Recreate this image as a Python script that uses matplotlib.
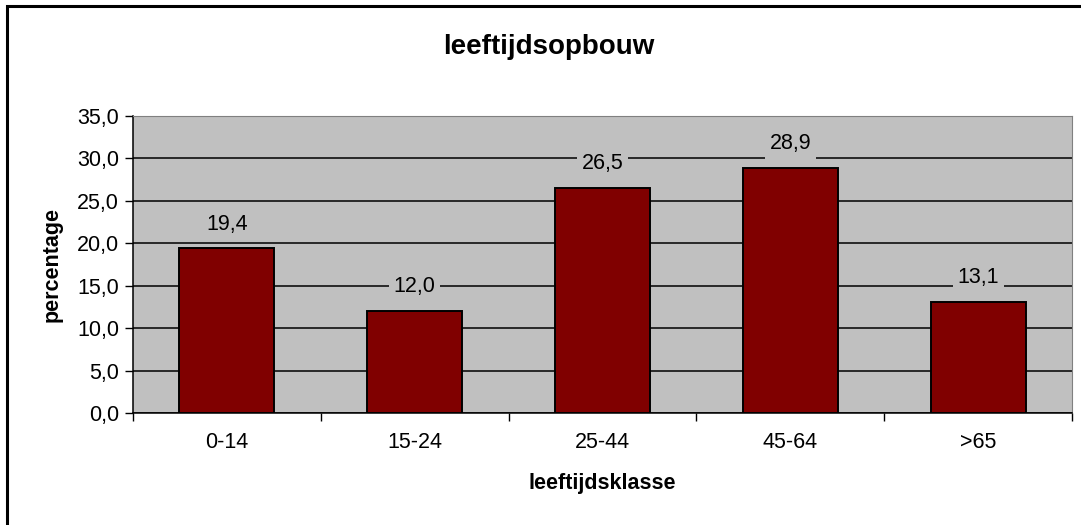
import matplotlib.pyplot as plt
from matplotlib.patches import Rectangle
from matplotlib.ticker import FixedLocator
import numpy as np

categories = ['0-14', '15-24', '25-44', '45-64', '>65']
percentages = [19.4, 12.0, 26.5, 28.9, 13.1]
yticks = [0, 5, 10, 15, 20, 25, 30, 35]

plt.rcParams['font.family'] = ['Liberation Sans', 'DejaVu Sans']

fig = plt.figure(figsize=(10.81, 5.25), dpi=100)
ax = fig.add_axes([0.1230, 0.2133, 0.8687, 0.5657])
ax.set_facecolor('#C0C0C0')

x = np.arange(len(categories))
bars = ax.bar(x, percentages, width=0.505, color='#800000', edgecolor='black',
              linewidth=1.4, zorder=3)

for xi, v in zip(x, percentages):
    ax.annotate(f'{v:.1f}'.replace('.', ','), (xi, v), xytext=(0, 17.5),
                textcoords='offset points', ha='center', va='center',
                fontsize=15.5, zorder=4,
                bbox=dict(boxstyle='square,pad=0.22', fc='#C0C0C0', ec='none'))

ax.set_xlim(-0.5, len(categories) - 0.5)
ax.set_ylim(0, 35)
ax.set_yticks(yticks)
ax.set_yticklabels([f'{t:.1f}'.replace('.', ',') for t in yticks], fontsize=15.5)
ax.yaxis.grid(True, color='black', linewidth=1.1, zorder=1)
ax.set_axisbelow(True)

ax.set_xticks(x)
ax.set_xticklabels(categories, fontsize=15.5)
ax.tick_params(axis='x', which='major', length=0, pad=14)
ax.xaxis.set_minor_locator(FixedLocator(np.arange(-0.5, len(categories), 1.0)))
ax.tick_params(axis='x', which='minor', length=6, width=1, direction='out')
ax.tick_params(axis='y', length=6, width=1, direction='out', pad=4)

for side in ['top', 'right']:
    ax.spines[side].set_color('#808080')
for side in ['left', 'bottom']:
    ax.spines[side].set_color('black')
    ax.spines[side].set_linewidth(1.1)

ax.set_xlabel('leeftijdsklasse', fontsize=15.5, fontweight='bold', labelpad=14)
ax.set_ylabel('percentage', fontsize=15.5, fontweight='bold', labelpad=10)
fig.text(0.508, 0.910, 'leeftijdsopbouw', ha='center', va='center',
         fontsize=20, fontweight='bold')

# outer frame of the chart, running past the right and bottom edges
fig.patches.append(Rectangle((7 / 1081, -0.1), 1.2, 1.1 - 6 / 525,
                             transform=fig.transFigure, fill=False,
                             edgecolor='black', linewidth=2.2))

fig.savefig('out.png', dpi=100)
